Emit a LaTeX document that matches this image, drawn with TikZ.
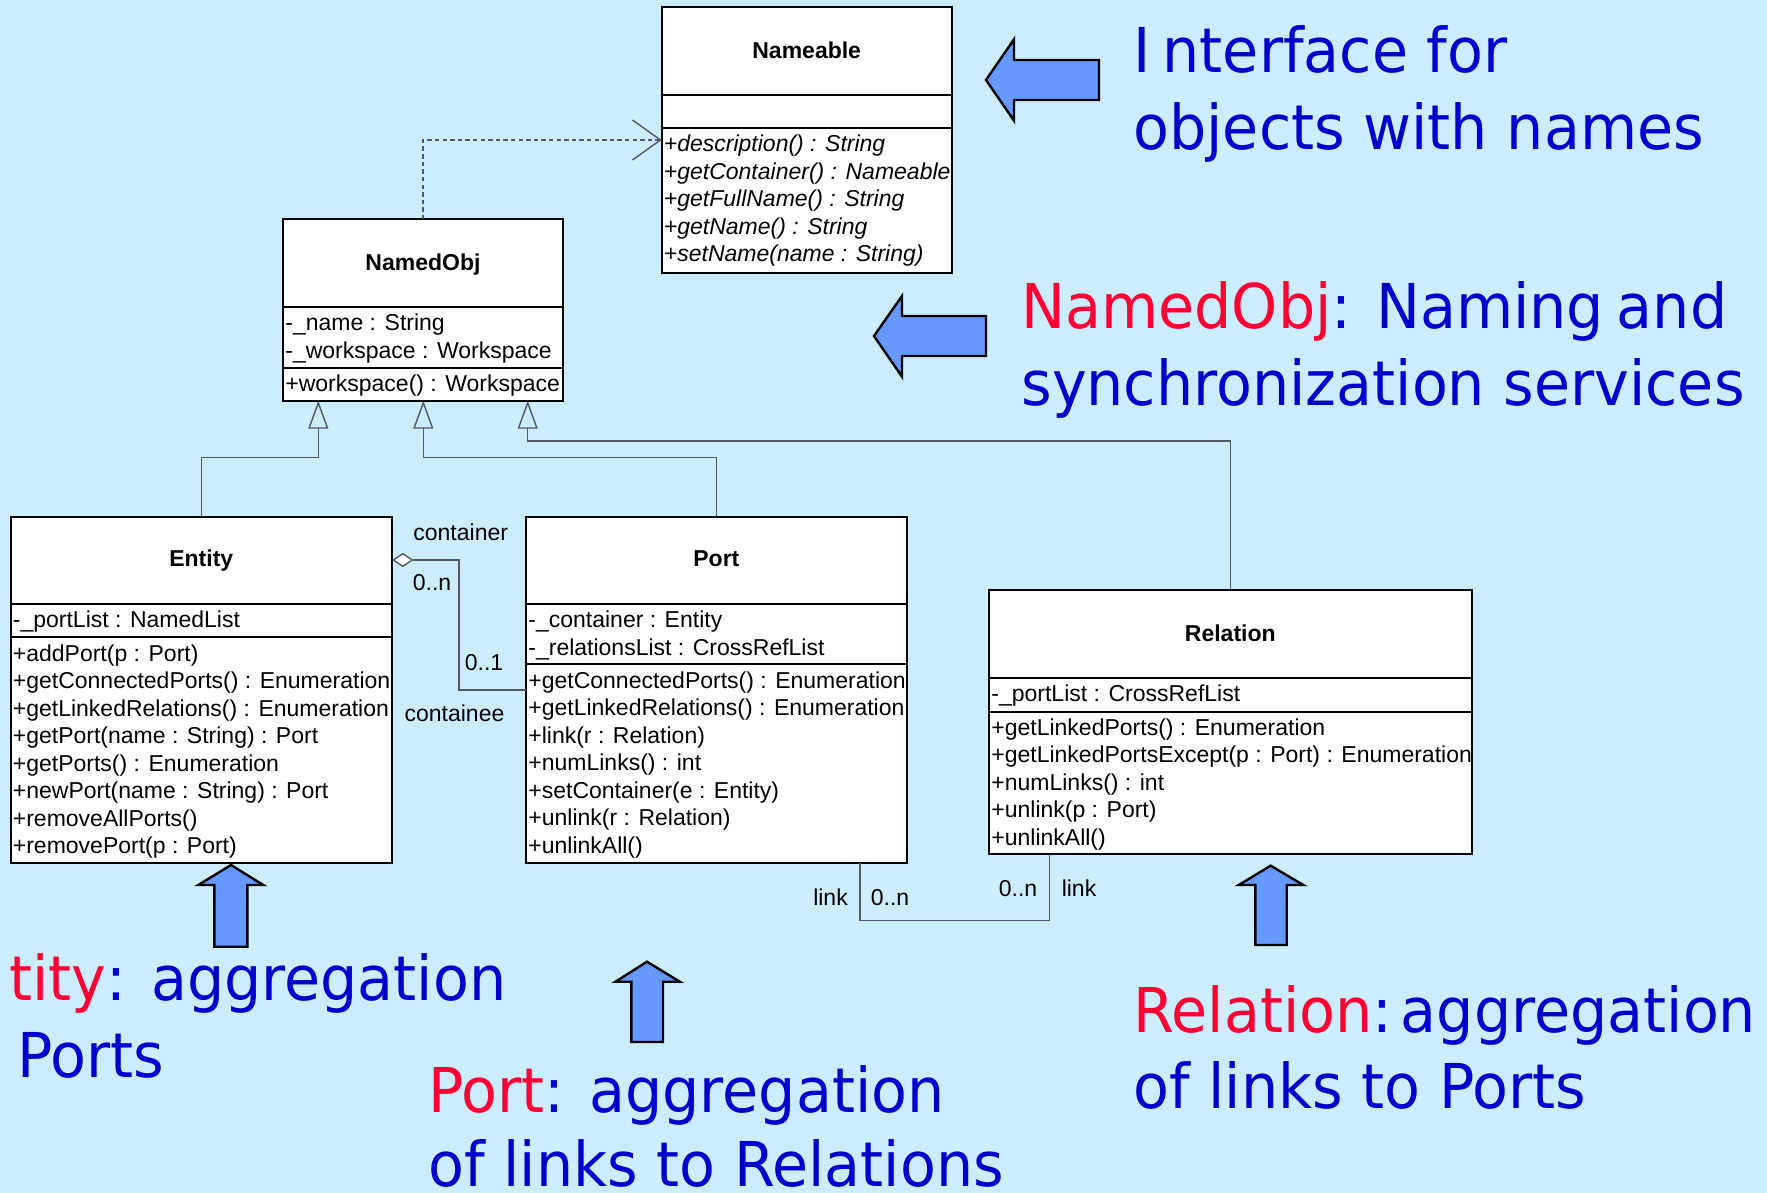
\documentclass[tikz,border=0pt]{standalone}
\usepackage{fontspec}
\setmainfont{Liberation Sans}
\newfontfamily\bigfont[FakeStretch=0.95]{DejaVu Sans}
\usetikzlibrary{arrows.meta}
\definecolor{bgc}{RGB}{204,236,255}
\definecolor{arrowc}{RGB}{102,153,255}
\definecolor{txtblue}{RGB}{0,0,204}
\definecolor{txtred}{RGB}{255,0,51}
\definecolor{connc}{RGB}{80,90,100}
\begin{document}
\begin{tikzpicture}[x=0.5pt,y=-0.5pt,
  classbox/.style={draw=black, line width=1pt, fill=white, anchor=north west, inner sep=0pt, outer sep=0pt},
  umltxt/.style={anchor=base west, inner sep=0pt, font={\fontsize{11.5}{13.75}\selectfont}},
  umlit/.style={anchor=base west, inner sep=0pt, font={\fontsize{11.5}{13.75}\selectfont\itshape}},
  umltitle/.style={anchor=base, inner sep=0pt, font={\fontsize{11.5}{13.75}\selectfont\bfseries}},
  lbl/.style={anchor=base, inner sep=0pt, font={\fontsize{11.5}{13.75}\selectfont}},
  conn/.style={draw=connc, line width=0.7pt},
  divline/.style={draw=black, line width=1pt},
  bigtxt/.style={anchor=base west, inner sep=0pt, text=txtblue, font={\bigfont\fontsize{30.9}{38}\selectfont}},
  blockarrow/.style={fill=arrowc, draw=black, line width=1.2pt, line join=miter},
  inh/.style={conn, -{Triangle[open, length=14pt, width=10pt]}}
]
\useasboundingbox (0,0) rectangle (1767,1193);
\fill[bgc] (0,0) rectangle (1767,1193);
\clip (0,0) rectangle (1767,1193);

% ---------- class boxes ----------
\node[classbox, minimum width=145pt, minimum height=132.7pt] (nameable) at (661.7,7.3) {};
\node[classbox, minimum width=139.7pt, minimum height=90.7pt] (namedobj) at (283.3,219.3) {};
\node[classbox, minimum width=190.55pt, minimum height=173.3pt] (entity) at (10.7,516.7) {};
\node[classbox, minimum width=190.35pt, minimum height=173.3pt] (port) at (526,516.7) {};
\node[classbox, minimum width=241.35pt, minimum height=132.15pt] (relation) at (989,590) {};

% dividers
\draw[divline] (661.7,95) -- (951.7,95);
\draw[divline] (661.7,128.3) -- (951.7,128.3);
\draw[divline] (283.3,307.3) -- (562.7,307.3);
\draw[divline] (283.3,368.3) -- (562.7,368.3);
\draw[divline] (10.7,604) -- (391.8,604);
\draw[divline] (10.7,637.3) -- (391.8,637.3);
\draw[divline] (526,604) -- (906.7,604);
\draw[divline] (526,664.3) -- (906.7,664.3);
\draw[divline] (989,677.7) -- (1471.7,677.7);
\draw[divline] (989,711.7) -- (1471.7,711.7);

% titles
\node[umltitle] (tnameable) at (806.7,58.3) {Nameable};
\node[umltitle] (tnamedobj) at (423,270) {NamedObj};
\node[umltitle] (tentity) at (201.25,566.7) {Entity};
\node[umltitle] (tport) at (716.35,566.7) {Port};
\node[umltitle] (trelation) at (1230.3,641.7) {Relation};

% Nameable methods
\foreach \t [count=\i from 0] in {{+description() : String},{+getContainer() : Nameable},{+getFullName() : String},{+getName() : String},{+setName(name : String)}}
  \node[umlit] (nm\i) at (663.5,{152+27.4*\i}) {\t};

% NamedObj
\node[umltxt] (na0) at (285,330.7) {-\_name : String};
\node[umltxt] (na1) at (285,358.2) {-\_workspace : Workspace};
\node[umltxt] (nb0) at (285,391) {+workspace() : Workspace};

% Entity
\node[umltxt] (ea0) at (12.5,627.5) {-\_portList : NamedList};
\foreach \t [count=\i from 0] in {{+addPort(p : Port)},{+getConnectedPorts() : Enumeration},{+getLinkedRelations() : Enumeration},{+getPort(name : String) : Port},{+getPorts() : Enumeration},{+newPort(name : String) : Port},{+removeAllPorts()},{+removePort(p : Port)}}
  \node[umltxt] (em\i) at (12.5,{661+27.5*\i}) {\t};

% Port
\node[umltxt] (pa0) at (528,627.5) {-\_container : Entity};
\node[umltxt] (pa1) at (528,655) {-\_relationsList : CrossRefList};
\foreach \t [count=\i from 0] in {{+getConnectedPorts() : Enumeration},{+getLinkedRelations() : Enumeration},{+link(r : Relation)},{+numLinks() : int},{+setContainer(e : Entity)},{+unlink(r : Relation)},{+unlinkAll()}}
  \node[umltxt] (pm\i) at (528,{688+27.5*\i}) {\t};

% Relation
\node[umltxt] (ra0) at (991,701) {-\_portList : CrossRefList};
\foreach \t [count=\i from 0] in {{+getLinkedPorts() : Enumeration},{+getLinkedPortsExcept(p : Port) : Enumeration},{+numLinks() : int},{+unlink(p : Port)},{+unlinkAll()}}
  \node[umltxt] (rm\i) at (991,{735.2+27.5*\i}) {\t};

% ---------- connectors ----------
\coordinate (e1) at (318.3,457.7);
\coordinate (p1) at (423.3,457.7);
\coordinate (r1) at (527.7,441);
\draw[inh] (entity.north) |- (e1) -- (e1 |- namedobj.south);
\draw[inh] (port.north) |- (p1) -- (p1 |- namedobj.south);
\draw[inh] (relation.north) |- (r1) -- (r1 |- namedobj.south);

\coordinate (d1) at (661.7,140);
\draw[conn, dash pattern=on 2.2pt off 1.6pt, -{Straight Barb[length=14pt, width=20pt]}] (namedobj.north) |- (d1);

\coordinate (a1) at (459,560);
\coordinate (a2) at (391.8,560);
\draw[conn, -{Diamond[fill=white, length=11pt, width=7pt]}] (port.west) -| (a1) -- (a2);

\coordinate (l2) at (950,920.7);
\draw[conn] ([xshift=-23.35pt]port.south east) |- (l2) -| ([xshift=30.15pt]relation.south west);

% labels
\node[lbl] (lcontainer) at (460.7,540) {container};
\node[lbl] (lcn) at (432,590.7) {0..n};
\node[lbl] (lc1) at (484,670.7) {0..1};
\node[lbl] (lcontainee) at (454.5,721.7) {containee};
\node[lbl] (llink1) at (830.5,905) {link};
\node[lbl] (lpn) at (890,905) {0..n};
\node[lbl] (lrn) at (1018,896) {0..n};
\node[lbl] (llink2) at (1079,896.7) {link};

% ---------- block arrows ----------
\draw[blockarrow] (986,80) -- (1014,39.3) -- (1014,60) -- (1099,60) -- (1099,100) -- (1014,100) -- (1014,120.7) -- cycle;
\draw[blockarrow] (874,336) -- (902,296) -- (902,316) -- (986,316) -- (986,356) -- (902,356) -- (902,376.7) -- cycle;
\draw[blockarrow] (231,865) -- (263.3,885) -- (247.3,885) -- (247.3,946.7) -- (214.3,946.7) -- (214.3,885) -- (198.3,885) -- cycle;
\draw[blockarrow] (647,961.7) -- (679.8,981.7) -- (663,981.7) -- (663,1042) -- (631.3,1042) -- (631.3,981.7) -- (615.5,981.7) -- cycle;
\draw[blockarrow] (1270.7,865.7) -- (1303.3,885) -- (1286.7,885) -- (1286.7,945) -- (1255.3,945) -- (1255.3,885) -- (1238.7,885) -- cycle;

% ---------- big annotations ----------
\node[bigtxt] (t1a) at (1133,72.7) {I\kern6pt nterface for};
\node[bigtxt] (t1b) at (1133,149) {objects with names};
\node[bigtxt] (t2a) at (1021,328) {\textcolor{txtred}{NamedObj}: Naming\kern-3pt\ and};
\node[bigtxt] (t2b) at (1021,405) {synchronization services};
\node[bigtxt] (t3a) at (9,1000) {\textcolor{txtred}{tity}: aggregation};
\node[bigtxt] (t3b) at (17,1077) {Ports};
\node[bigtxt] (t4a) at (428,1112) {\textcolor{txtred}{Port}: aggregation};
\node[bigtxt] (t4b) at (428,1186) {of links to Relations};
\node[bigtxt] (t5a) at (1133,1032) {\textcolor{txtred}{Relation}:\kern-5pt\ aggregation};
\node[bigtxt] (t5b) at (1133,1108) {of links to Ports};
\end{tikzpicture}
\end{document}
